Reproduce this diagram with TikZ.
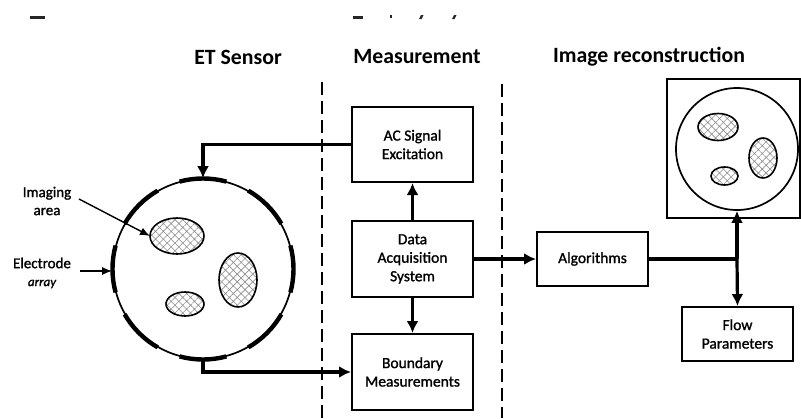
\documentclass[tikz,border=0pt]{standalone}
\usepackage{fontspec}
\setmainfont{Carlito}
\usetikzlibrary{arrows.meta,patterns.meta,calc}

\tikzset{
  box/.style={draw, line width=2pt, rectangle, align=center,
    font=\addfontfeatures{FakeBold=1.3}\fontsize{15.5}{18.5}\selectfont, inner sep=0pt},
  header/.style={font=\bfseries\fontsize{21.8}{25}\selectfont, inner sep=0pt},
  lbl/.style={font=\addfontfeatures{FakeBold=1.3}\fontsize{15}{18}\selectfont, align=center, inner sep=0pt},
  conn/.style={line width=3.2pt, -{Latex[length=12pt,width=12pt]}},
  plainconn/.style={line width=3.2pt},
  pointer/.style={line width=1.4pt, -{Latex[length=10pt,width=8pt]}},
  divider/.style={line width=1.8pt, dash pattern=on 13pt off 6pt},
  blob/.style={draw, line width=1.6pt,
    pattern={Hatch[angle=45,distance=5.5pt,line width=0.6pt]}, pattern color=black!45},
  electrode/.style={line width=4.4pt},
  ring/.style={draw, circle, line width=1.7pt, inner sep=0pt},
}

\begin{document}
\begin{tikzpicture}[x=1pt, y=-1pt]
  \useasboundingbox (0,0) rectangle (801,418);

  % remnants of the caption line above the figure
  \fill[black!85] (30,15.5) rectangle (45,19);
  \fill[black!85] (353,16) rectangle (363,18.5);
  \fill[black!85] (389.5,15) rectangle (392,17.5);
  \fill[black!85] (419,19) -- (421,15) -- (423.5,15) -- (421.5,19) -- cycle;
  \fill[black!85] (452,19) -- (454,15) -- (456.5,15) -- (454.5,19) -- cycle;

  % section headers
  \node[header] (hsensor) at (238,57) {ET Sensor};
  \node[header] (hmeas) at (417,57) {Measurement};
  \node[header] (hrecon) at (649,57) {Image reconstruction};

  % section dividers
  \coordinate (d1top) at (322,82);
  \coordinate (d1bot) at (322,418);
  \coordinate (d2top) at (502,84);
  \coordinate (d2bot) at (502,418);
  \draw[divider] (d1top) -- (d1bot);
  \draw[divider] (d2top) -- (d2bot);

  % measurement blocks
  \node[box, minimum width=121pt, minimum height=75pt] (ac) at (412.5,144.5) {AC Signal\\Excitation};
  \node[box, minimum width=121pt, minimum height=76pt] (das) at (412.5,259) {Data\\Acquisition\\System};
  \node[box, minimum width=121pt, minimum height=76pt] (bm) at (412.5,372) {Boundary\\Measurements};

  % reconstruction blocks
  \node[box, minimum width=111pt, minimum height=54pt] (alg) at (592.5,259) {Algorithms};
  \node[box, minimum width=111pt, minimum height=54pt] (fp) at (737.5,334) {Flow\\Parameters};
  \node[draw, line width=2pt, minimum width=133pt, minimum height=139pt, inner sep=0pt] (rbox) at (733.5,148.5) {};
  \node[ring, minimum size=122pt] (rimg) at (737,149) {};

  % reconstructed image inclusions
  \draw[blob] (718,127) ellipse [x radius=20pt, y radius=13.5pt];
  \draw[blob] (763,158) ellipse [x radius=14pt, y radius=20pt];
  \draw[blob] (724.5,176) ellipse [x radius=13.5pt, y radius=9pt];

  % sensor cross-section with its electrode array
  \node[ring, minimum size=180pt] (sensor) at (203,269) {};
  \foreach \a in {0,45,...,315}{
    \draw[electrode] ([shift={(\a-15:90.5pt)}]sensor.center)
      arc[start angle=\a-15, end angle=\a+15, radius=90.5pt];
  }
  \draw[blob] (177,236) ellipse [x radius=27pt, y radius=18pt];
  \draw[blob] (238,280) ellipse [x radius=19pt, y radius=27pt];
  \draw[blob] (185,304) ellipse [x radius=19pt, y radius=12pt];

  % sensor labels
  \node[lbl] (limg) at (47,201) {Imaging\\area};
  \node[lbl] (lel) at (42,263) {Electrode};
  \node[lbl, font=\itshape\addfontfeatures{FakeBold=1.3}\fontsize{13}{15}\selectfont] (larr) at (42,284) {array};
  \coordinate (imgtip) at (150,236);
  \coordinate (imgtail) at (79,199);
  \coordinate (eltail) at (80,271);
  \draw[pointer] (imgtail) -- (imgtip);
  \draw[pointer] (eltail) -- (eltail -| sensor.west);

  % signal flow
  \draw[conn] (ac.west) -| (sensor.north);
  \draw[conn] (sensor.south) |- (bm.west);
  \draw[conn] (das.north) -- (ac.south);
  \draw[conn] (das.south) -- (bm.north);
  \draw[conn] (das.east) -- (alg.west);
  \coordinate (split) at (737,259);
  \draw[plainconn] (alg.east) -- (split);
  \draw[conn] (split) -- (rimg.south);
  \draw[conn] (split) -- (fp.north);
\end{tikzpicture}
\end{document}
